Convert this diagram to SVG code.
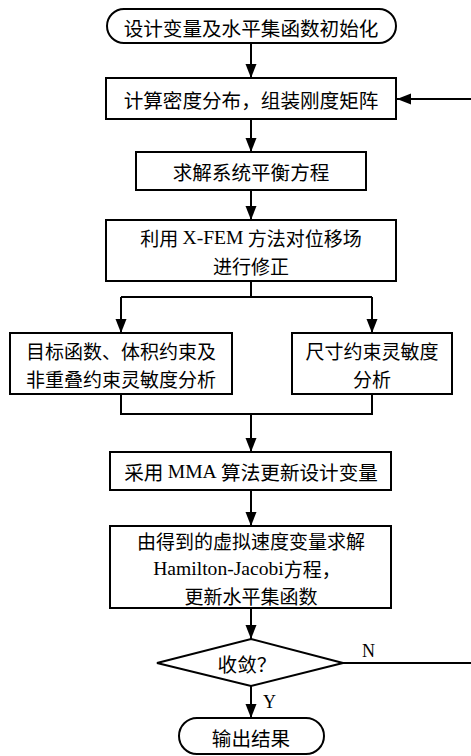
<svg xmlns="http://www.w3.org/2000/svg" width="471" height="756" viewBox="0 0 471 756">
<style>
.box{fill:#fff;stroke:#000;stroke-width:2}
.t{font-family:"Noto Sans CJK SC","Liberation Serif",serif;font-size:19px;fill:#000;text-anchor:middle;dominant-baseline:central}
.w{font-size:19.6px}
.l{font-family:"Liberation Serif",serif;font-size:19.6px}
.lab{font-family:"Liberation Serif",serif;font-size:18px;fill:#000}
.c{fill:none;stroke:#000;stroke-width:2}
</style>
<defs>
<marker id="ah" markerUnits="userSpaceOnUse" markerWidth="14" markerHeight="12" refX="14" refY="6" orient="auto">
<path d="M0,0.5 L14,6 L0,11.5 z" fill="#000"/>
</marker>
</defs>
<g id="connectors">
<path class="c" d="M251,43 V78" marker-end="url(#ah)"/>
<path class="c" d="M251,119 V152" marker-end="url(#ah)"/>
<path class="c" d="M251,190 V220" marker-end="url(#ah)"/>
<path class="c" d="M251,281 V297 M121,297 H372"/>
<path class="c" d="M121,297 V333" marker-end="url(#ah)"/>
<path class="c" d="M372,297 V333" marker-end="url(#ah)"/>
<path class="c" d="M121,394 V414 H372 V394"/>
<path class="c" d="M251,414 V452" marker-end="url(#ah)"/>
<path class="c" d="M251,490 V526" marker-end="url(#ah)"/>
<path class="c" d="M251,608 V639" marker-end="url(#ah)"/>
<path class="c" d="M251,686 V718" marker-end="url(#ah)"/>
<path class="c" d="M343,663 H476 V99 H397" marker-end="url(#ah)"/>
<text class="lab" x="362" y="657">N</text>
<text class="lab" x="263" y="708">Y</text>
</g>
<g id="start">
<rect class="box" x="107" y="9" width="289" height="34" rx="17" ry="17"/>
<text class="t w" x="251" y="27">设计变量及水平集函数初始化</text>
</g>
<g id="assemble">
<rect class="box" x="106" y="78" width="290" height="41"/>
<text class="t w" x="251" y="99">计算密度分布，组装刚度矩阵</text>
</g>
<g id="solve">
<rect class="box" x="136" y="152" width="230" height="38"/>
<text class="t w" x="251" y="171">求解系统平衡方程</text>
</g>
<g id="xfem">
<rect class="box" x="106" y="220" width="290" height="61"/>
<text class="t" x="251" y="237">利用 <tspan class="l">X-FEM</tspan> 方法对位移场<tspan x="251" y="264.6">进行修正</tspan></text>
</g>
<g id="sens1">
<rect class="box" x="10" y="333" width="222" height="61"/>
<text class="t" x="121" y="350.2">目标函数、体积约束及<tspan x="121" y="377.8">非重叠约束灵敏度分析</tspan></text>
</g>
<g id="sens2">
<rect class="box" x="292" y="333" width="160" height="61"/>
<text class="t" x="372" y="350.2">尺寸约束灵敏度<tspan x="372" y="377.8">分析</tspan></text>
</g>
<g id="mma">
<rect class="box" x="110" y="452" width="281" height="38"/>
<text class="t w" x="251" y="471">采用 <tspan class="l">MMA</tspan> 算法更新设计变量</text>
</g>
<g id="hj">
<rect class="box" x="110" y="526" width="281" height="82"/>
<text class="t" x="251" y="540">由得到的虚拟速度变量求解<tspan x="247" y="567.6"><tspan class="l">Hamilton-Jacobi</tspan>方程，</tspan><tspan x="251" y="595.2">更新水平集函数</tspan></text>
</g>
<g id="converge">
<polygon class="box" points="251,639 343,663 251,686 157,663"/>
<text class="t w" x="247" y="663">收敛？</text>
</g>
<g id="end">
<rect class="box" x="179" y="718" width="145" height="36" rx="18" ry="18"/>
<text class="t w" x="251" y="737">输出结果</text>
</g>
</svg>
